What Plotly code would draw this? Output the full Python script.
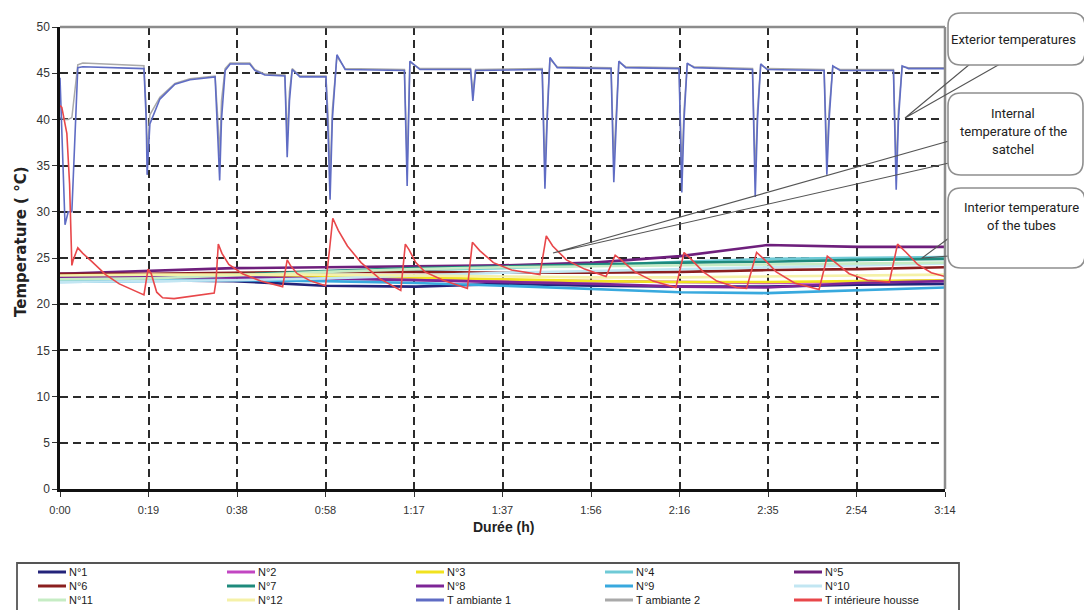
import plotly.graph_objects as go

# ------------------------------------------------------------------ data
tick_minutes = [0, 19.4, 38.8, 58.2, 77.6, 97.0, 116.4, 135.8, 155.2, 174.6, 194.0]
tick_labels = ["0:00", "0:19", "0:38", "0:58", "1:17", "1:37", "1:56", "2:16", "2:35", "2:54", "3:14"]
y_ticks = [0, 5, 10, 15, 20, 25, 30, 35, 40, 45, 50]

# tube probes (minutes)
tube_t = [0, 19, 38, 58, 78, 97, 117, 136, 155, 175, 194]
n1 = [22.6, 22.6, 22.5, 22.0, 21.9, 22.2, 22.0, 21.9, 21.9, 22.1, 22.2]
n2 = [23.3, 23.1, 22.9, 22.9, 22.8, 22.6, 22.5, 22.4, 22.3, 22.4, 22.6]
n3 = [23.0, 23.0, 23.1, 23.0, 22.9, 22.7, 22.5, 22.4, 22.4, 22.5, 22.6]
n4 = [22.5, 22.6, 23.0, 23.4, 23.7, 23.9, 24.2, 24.6, 24.9, 25.0, 25.1]
n5 = [23.3, 23.6, 23.9, 24.0, 24.1, 24.2, 24.5, 25.2, 26.4, 26.2, 26.2]
n6 = [23.3, 23.3, 23.4, 23.5, 23.5, 23.4, 23.4, 23.5, 23.7, 23.8, 24.0]
n7 = [22.8, 22.9, 23.2, 23.6, 23.9, 24.1, 24.3, 24.5, 24.6, 24.8, 24.9]
n8 = [22.9, 22.9, 22.9, 22.8, 22.6, 22.4, 22.2, 21.9, 21.8, 22.3, 22.5]
n9 = [22.4, 22.5, 22.6, 22.5, 22.3, 22.0, 21.6, 21.3, 21.2, 21.5, 21.8]
n10 = [22.4, 22.5, 22.6, 22.8, 23.1, 23.4, 23.6, 23.8, 24.0, 24.2, 24.4]
n11 = [22.7, 22.8, 23.1, 23.5, 23.8, 24.0, 24.1, 24.2, 24.3, 24.4, 24.5]
n12 = [23.1, 23.2, 23.2, 23.2, 23.1, 23.0, 22.9, 22.9, 23.0, 23.1, 23.2]

# ambient (exterior) temperatures
amb_t = [0, 1.1, 1.8, 2.6, 3.9, 5, 18.4, 18.9, 19.1, 19.7, 21.9, 25.2, 28.5, 34.0, 34.6,
         35.0, 35.4, 36.2, 37.3, 41.6, 42.7, 44.9, 49.3, 49.8, 50.3, 50.9, 52.6, 58.3, 58.8,
         59.2, 59.7, 60.7, 62.5, 75.5, 76.1, 76.7, 78.9, 90.0, 90.5, 91.1, 105.7, 106.3,
         106.8, 107.4, 109, 120.8, 121.4, 121.9, 122.5, 124, 135.7, 136.3, 136.8, 137.5, 139,
         151.8, 152.4, 152.9, 153.6, 155, 167.5, 168.1, 168.6, 169.4, 171, 182.7, 183.3,
         183.8, 184.6, 186, 194]
amb1 = [44.5, 28.6, 30, 30, 45.6, 45.7, 45.5, 40, 34, 39.5, 42.2, 43.8, 44.3, 44.6, 38,
        33.4, 40, 45.3, 46.0, 46.0, 45.3, 44.8, 44.7, 35.9, 42, 45.4, 44.6, 44.6, 38,
        31.3, 40, 47.0, 45.4, 45.3, 32.8, 46.3, 45.4, 45.4, 42.0, 45.3, 45.4, 32.5,
        40, 46.7, 45.6, 45.5, 33.2, 40, 46.3, 45.6, 45.5, 32.1, 40, 46.1, 45.6,
        45.4, 31.6, 40, 46.0, 45.4, 45.3, 34.0, 40, 45.8, 45.3, 45.3, 32.4,
        40, 45.8, 45.5, 45.5]
amb2 = [40.2, 40.0, 40.0, 40.2, 45.9, 46.1, 45.8, 41, 36, 40.5, 42.4, 43.9, 44.4, 44.7, 40,
        36, 42, 45.5, 46.1, 46.1, 45.4, 44.9, 44.8, 38, 43, 45.5, 44.7, 44.7, 40,
        33.5, 41, 46.8, 45.5, 45.4, 35, 46.2, 45.5, 45.5, 43.0, 45.4, 45.5, 34.5,
        41, 46.5, 45.7, 45.6, 35.5, 41, 46.2, 45.7, 45.6, 34.5, 41, 46.0, 45.7,
        45.5, 34, 41, 45.9, 45.5, 45.4, 36, 41, 45.7, 45.4, 45.4, 34.5,
        41, 45.7, 45.6, 45.6]

# interior of the satchel
red_t = [0, 0.4, 1.5, 2.1, 2.6, 2.9, 3.9, 5, 7, 10, 13, 16, 18.4, 19.3, 20.0, 21.2, 22.5, 25,
         30, 33.8, 34.2, 34.7, 35.5, 37, 40, 44, 48.8, 49.8, 50.5, 52, 55, 58.2, 59.1, 59.8,
         61, 63, 66, 70, 74.7, 75.7, 76.5, 78, 80, 84, 89.3, 90.4, 92, 95, 99, 105.2, 106.6,
         108, 111, 115, 119.7, 121.7, 123, 126, 130, 135, 136.8, 138.5, 141, 144, 148.3,
         150.5, 152.7, 154.5, 157, 161, 166.4, 168.2, 170, 173, 177, 181.8, 183.6, 185.5,
         188, 191, 194]
red_v = [41.5, 41.3, 38.5, 33, 24.2, 24.8, 26.1, 25.5, 24.6, 23.2, 22.2, 21.5, 21.0, 23.8,
         23.3, 21.3, 20.7, 20.6, 20.9, 21.2, 22.5, 26.5, 25.5, 24.3, 23.3, 22.5, 21.9, 24.8,
         24.2, 23.3, 22.5, 22.0, 26, 29.3, 28, 26.3, 24.5, 22.8, 21.5, 26.5, 25.9, 24.5,
         23.5, 22.6, 21.7, 26.7, 25.8, 24.5, 23.7, 23.2, 27.4, 26.3, 24.8, 23.8, 23.0,
         25.3, 24.8, 23.5, 22.5, 21.8, 25.6, 24.8, 23.5, 22.5, 21.8, 21.7, 25.6, 24.8,
         23.5, 22.3, 21.6, 25.2, 24.5, 23.3, 22.6, 22.4, 26.5, 25.6, 24.3, 23.4, 23.0]

series_names = ["N°1", "N°2", "N°3", "N°4", "N°5", "N°6", "N°7", "N°8", "N°9", "N°10",
                "N°11", "N°12", "T ambiante 1", "T ambiante 2", "T intérieure housse"]

callout_texts = {
    "ext": ["Exterior temperatures"],
    "sat": ["Internal", "temperature of the", "satchel"],
    "tub": ["Interior temperature", "of the tubes"],
}

# ------------------------------------------------------------------ style
colors = ["#23237a", "#c246c2", "#f1e21f", "#6fcad6", "#6e1f7c", "#8b1f1f", "#1e8a7c",
          "#7d2596", "#38a9de", "#c2e6f2", "#c6ecc4", "#f5f1a8", "#5f6cc4", "#a9a9a9",
          "#e8474a"]

PAGE_OFF = 8                      # default body margin of the page
W, H = 1092 - PAGE_OFF, 610 - PAGE_OFF
L, R, T, B = 60, 945, 27, 489     # plot area in window pixels


def px(x):
    return (x - L) / (R - L)


def py(y):
    return (B - y) / (B - T)


fig = go.Figure()

tube_vals = [n1, n2, n3, n4, n5, n6, n7, n8, n9, n10, n11, n12]
for i, vals in enumerate(tube_vals):
    fig.add_trace(go.Scatter(x=tube_t, y=vals, mode="lines", name=series_names[i],
                             line=dict(color=colors[i], width=2.6), showlegend=False))

fig.add_trace(go.Scatter(x=amb_t, y=amb2, mode="lines", name=series_names[13],
                         line=dict(color=colors[13], width=1.5), showlegend=False))
fig.add_trace(go.Scatter(x=amb_t, y=amb1, mode="lines", name=series_names[12],
                         line=dict(color=colors[12], width=1.6), showlegend=False))
fig.add_trace(go.Scatter(x=red_t, y=red_v, mode="lines", name=series_names[14],
                         line=dict(color=colors[14], width=1.6), showlegend=False))

shapes = []
annotations = []

# plot frame (top / right in grey)
shapes.append(dict(type="line", xref="paper", yref="paper", x0=0, x1=1, y0=1, y1=1,
                   line=dict(color="#8c8c8c", width=2.5), layer="above"))
shapes.append(dict(type="line", xref="paper", yref="paper", x0=1, x1=1, y0=0, y1=1,
                   line=dict(color="#8c8c8c", width=2.5), layer="above"))

# legend (drawn manually to get the compact 5 x 3 grid)
col_x = [38, 227, 416, 605, 794]
row_y = [572, 586, 600]
shapes.append(dict(type="rect", xref="paper", yref="paper", x0=px(17), x1=px(959),
                   y0=py(563), y1=py(625), line=dict(color="#555555", width=1.8),
                   fillcolor="rgba(0,0,0,0)", layer="above"))
for i, name in enumerate(series_names):
    cx = col_x[i % 5]
    cy = row_y[i // 5]
    shapes.append(dict(type="line", xref="paper", yref="paper", x0=px(cx), x1=px(cx + 28),
                       y0=py(cy), y1=py(cy), line=dict(color=colors[i], width=3),
                       layer="above"))
    annotations.append(dict(xref="paper", yref="paper", x=px(cx + 29), y=py(cy), text=name,
                            showarrow=False, xanchor="left", yanchor="middle",
                            font=dict(family="Liberation Sans, Arial", size=11,
                                      color="#1a1a1a")))


def rrect(x0, y0, x1, y1, r):
    pts = [
        ("M", (x0 + r, y0)), ("L", (x1 - r, y0)), ("Q", (x1, y0), (x1, y0 + r)),
        ("L", (x1, y1 - r)), ("Q", (x1, y1), (x1 - r, y1)), ("L", (x0 + r, y1)),
        ("Q", (x0, y1), (x0, y1 - r)), ("L", (x0, y0 + r)), ("Q", (x0, y0), (x0 + r, y0)),
    ]
    s = ""
    for p in pts:
        s += p[0] + " " + " ".join(f"{px(a):.5f},{py(b):.5f}" for a, b in p[1:]) + " "
    return s + "Z"


def wedge(a, tip, b):
    return (f"M {px(a[0]):.5f},{py(a[1]):.5f} L {px(tip[0]):.5f},{py(tip[1]):.5f} "
            f"L {px(b[0]):.5f},{py(b[1]):.5f}")


# callout pointers
for a, tip, b in [((970, 64), (905, 118), (1000, 64)),
                  ((949, 141), (553, 253), (949, 163)),
                  ((949, 238), (922, 258), (949, 256))]:
    shapes.append(dict(type="path", xref="paper", yref="paper", path=wedge(a, tip, b),
                       line=dict(color="#555555", width=1.1), layer="above"))

# callout boxes
for (x0, y0, x1, y1) in [(948, 13, 1085, 65), (948, 93, 1083, 175), (948, 188, 1085, 268)]:
    shapes.append(dict(type="path", xref="paper", yref="paper", path=rrect(x0, y0, x1, y1, 13),
                       line=dict(color="#8f8f8f", width=1.6), fillcolor="white",
                       layer="above"))

callout_font = dict(family="Roboto, Liberation Sans, Arial", size=13, color="#222222")
for key, cx, ys in [("ext", 1013, [39]), ("sat", 1013, [113, 131, 149]),
                    ("tub", 1021, [207, 225])]:
    for line_text, yy in zip(callout_texts[key], ys):
        annotations.append(dict(xref="paper", yref="paper", x=px(cx), y=py(yy),
                                text=line_text, showarrow=False, xanchor="center",
                                yanchor="middle", font=callout_font))

# axis titles
annotations.append(dict(xref="paper", yref="paper", x=px(21), y=py(242),
                        text="Temperature ( °C)", textangle=-90, showarrow=False,
                        xanchor="center", yanchor="middle",
                        font=dict(family="DejaVu Sans, Liberation Sans", size=15,
                                  color="#222222", weight="bold")))
annotations.append(dict(xref="paper", yref="paper", x=px(503), y=py(527),
                        text="Durée (h)", showarrow=False, xanchor="center",
                        yanchor="middle",
                        font=dict(family="Liberation Sans, Arial", size=14,
                                  color="#222222", weight="bold")))

fig.update_layout(
    width=W, height=H,
    margin=dict(l=L - PAGE_OFF, r=W - (R - PAGE_OFF), t=T - PAGE_OFF, b=H - (B - PAGE_OFF)),
    paper_bgcolor="white", plot_bgcolor="white",
    showlegend=False,
    shapes=shapes, annotations=annotations,
    xaxis=dict(range=[0, 194], tickvals=tick_minutes, ticktext=tick_labels,
               showgrid=True, gridcolor="#2b2b2b", gridwidth=1.8, griddash="8px,5px",
               showline=True, linecolor="#111111", linewidth=2.5, zeroline=False,
               ticks="outside", ticklen=5, tickcolor="#333333", tickwidth=1,
               tickfont=dict(family="Liberation Sans, Arial", size=11, color="#333333"),
               ticklabelstandoff=4, fixedrange=True),
    yaxis=dict(range=[0, 50], tickvals=y_ticks, showgrid=True, gridcolor="#2b2b2b",
               gridwidth=1.8, griddash="8px,5px", showline=True, linecolor="#111111",
               linewidth=2.5, zeroline=False, ticks="outside", ticklen=5,
               tickcolor="#333333", tickwidth=1,
               tickfont=dict(family="Liberation Sans, Arial", size=12, color="#333333"),
               fixedrange=True),
)

fig.write_html("out.html")
